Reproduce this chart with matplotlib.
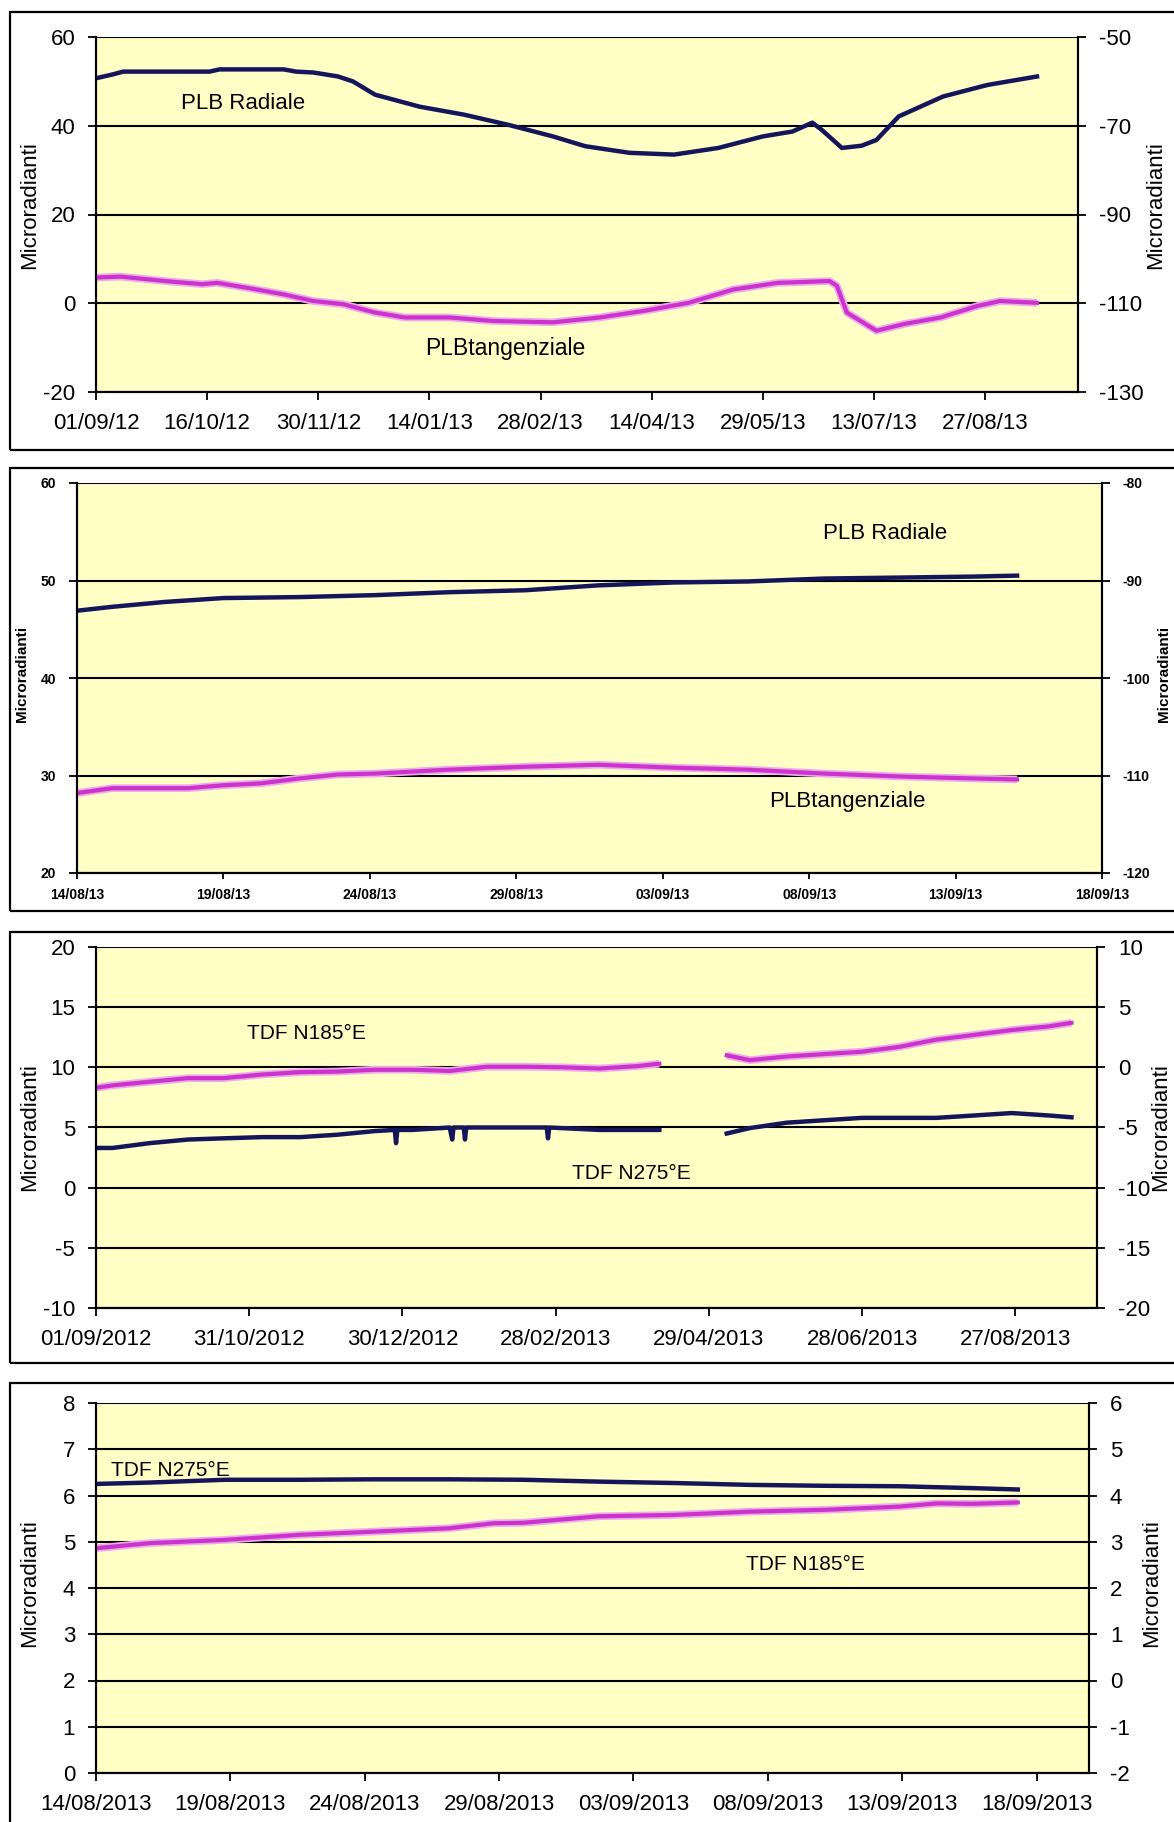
import datetime as dt
import numpy as np
import matplotlib
matplotlib.use('Agg')
import matplotlib.pyplot as plt
from matplotlib.patches import Rectangle

plt.rcParams['font.family'] = ['Liberation Sans', 'DejaVu Sans']
plt.rcParams['axes.unicode_minus'] = False

# ---- data (days after the panel start date, readings in microradianti) ----
# Panel 1: PLB, 01/09/2012 -> 09/2013
p1_start = dt.datetime(2012, 9, 1)
p1_rad_days = [0, 7, 11, 46, 50, 76, 81, 88, 98, 104, 113, 131, 149, 167, 185, 198,
               216, 234, 252, 270, 282, 290, 294, 302, 310, 316, 325, 343, 361, 381]
p1_rad_vals = [50.7, 51.6, 52.2, 52.2, 52.7, 52.7, 52.2, 52.0, 51.1, 50.0, 47.0, 44.3,
               42.5, 40.2, 37.6, 35.4, 33.9, 33.5, 35.0, 37.6, 38.7, 40.7, 39.0, 35.0,
               35.5, 36.8, 42.1, 46.6, 49.2, 51.1]
p1_tan_days = [0, 10, 28, 43, 49, 61, 76, 88, 100, 113, 125, 143, 161, 185, 204, 222,
               240, 258, 276, 297, 300, 304, 316, 327, 342, 357, 366, 381]
p1_tan_vals = [-104.2, -104.0, -105.0, -105.7, -105.4, -106.5, -108.0, -109.5, -110.2,
               -112.1, -113.2, -113.2, -114.0, -114.3, -113.2, -111.7, -109.9, -106.9,
               -105.4, -105.0, -106.1, -112.1, -116.2, -114.7, -113.2, -110.6, -109.5,
               -109.9]
p1_ticks = ['01/09/12', '16/10/12', '30/11/12', '14/01/13', '28/02/13', '14/04/13',
            '29/05/13', '13/07/13', '27/08/13']

# Panel 2: PLB, 14/08/2013 -> 18/09/2013
p2_start = dt.datetime(2013, 8, 14)
p2_rad_days = [0, 1.2, 3.0, 5.0, 7.6, 10.2, 12.7, 15.3, 17.8, 20.4, 22.9, 25.5, 28.1,
               30.6, 32.1]
p2_rad_vals = [46.9, 47.3, 47.8, 48.2, 48.3, 48.5, 48.8, 49.0, 49.5, 49.8, 49.9, 50.2,
               50.3, 50.4, 50.5]
p2_tan_days = [0, 1.2, 3.8, 5.0, 6.3, 7.6, 8.9, 10.2, 12.7, 15.3, 17.8, 20.4, 22.9,
               25.5, 28.1, 30.6, 32.1]
p2_tan_vals = [-111.8, -111.3, -111.3, -111.0, -110.8, -110.3, -109.9, -109.8, -109.4,
               -109.1, -108.9, -109.2, -109.4, -109.8, -110.1, -110.3, -110.4]
p2_ticks = ['14/08/13', '19/08/13', '24/08/13', '29/08/13', '03/09/13', '08/09/13',
            '13/09/13', '18/09/13']

# Panel 3: TDF, 01/09/2012 -> 09/2013 (gap in April/May 2013)
p3_start = dt.datetime(2012, 9, 1)
p3_n275_days = [0, 6.5, 21, 36, 50, 65, 80, 94.5, 109, 117, 117.5, 118, 124, 138.5,
                139.5, 140, 144, 144.5, 145, 153, 168, 176.5, 177, 177.5, 182.5, 197,
                212, 220.6, 234, 247, 256, 270.5, 285, 300, 314.5, 329, 344, 358.6,
                373, 382]
p3_n275_vals = [3.3, 3.3, 3.7, 4.0, 4.1, 4.2, 4.2, 4.4, 4.7, 4.8, 3.7, 4.8, 4.8, 5.0,
                4.0, 5.0, 5.0, 4.0, 5.0, 5.0, 5.0, 5.0, 4.1, 5.0, 4.95, 4.8, 4.8, 4.8,
                np.nan, 4.5, 4.95, 5.4, 5.6, 5.8, 5.8, 5.8, 6.0, 6.2, 6.0, 5.85]
p3_n185_days = [0, 6.5, 21, 36, 50, 65, 80, 94.5, 109, 124, 138.5, 153, 168, 182.5,
                197, 212, 220.6, 234, 247, 256, 270.5, 285, 300, 314.5, 329, 344,
                358.6, 373, 382]
p3_n185_vals = [-1.7, -1.5, -1.2, -0.9, -0.9, -0.6, -0.4, -0.35, -0.2, -0.2, -0.3,
                0.05, 0.05, 0.0, -0.1, 0.1, 0.3, np.nan, 1.0, 0.6, 0.9, 1.1, 1.3, 1.7,
                2.3, 2.7, 3.1, 3.4, 3.7]
p3_ticks = ['01/09/2012', '31/10/2012', '30/12/2012', '28/02/2013', '29/04/2013',
            '28/06/2013', '27/08/2013']

# Panel 4: TDF, 14/08/2013 -> 18/09/2013
p4_start = dt.datetime(2013, 8, 14)
p4_n275_days = [0, 2, 4.8, 7.6, 10.4, 13.1, 15.9, 18.7, 21.5, 24.3, 27.1, 29.9, 32.6,
                34.3]
p4_n275_vals = [6.25, 6.28, 6.34, 6.34, 6.35, 6.35, 6.34, 6.3, 6.27, 6.23, 6.21, 6.2,
                6.16, 6.13]
p4_n185_days = [0, 2, 4.8, 7.6, 10.4, 13.1, 14.8, 15.9, 18.7, 21.5, 24.3, 27.1, 29.9,
                31.3, 32.6, 34.3]
p4_n185_vals = [2.86, 2.97, 3.04, 3.15, 3.22, 3.29, 3.40, 3.41, 3.55, 3.58, 3.65, 3.69,
                3.76, 3.83, 3.82, 3.85]
p4_ticks = ['14/08/2013', '19/08/2013', '24/08/2013', '29/08/2013', '03/09/2013',
            '08/09/2013', '13/09/2013', '18/09/2013']

NAVY = '#15155c'
MAG = '#cc33cc'
HALO = '#ecaaec'
BG = '#ffffc6'
W, H = 1174, 1822


def to_dates(start, days):
    return [start + dt.timedelta(days=float(d)) for d in days]


def box(l, t, r, b):
    return [l / W, 1 - b / H, (r - l) / W, (b - t) / H]


def frame(fig, t, b):
    fig.patches.append(Rectangle((10 / W, 1 - b / H), (1190 - 10) / W, (b - t) / H,
                                 transform=fig.transFigure, fill=False,
                                 edgecolor='black', lw=1.6))


def setup(ax, ax2, start, xmax_days, ticks, fmt, ylim, ystep, y2lim, fs, bold=False):
    w = 'bold' if bold else 'normal'
    ax.set_facecolor(BG)
    ax.set_xlim(start, start + dt.timedelta(days=xmax_days))
    tick_dates = [dt.datetime.strptime(s, fmt) for s in ticks]
    ax.set_xticks(tick_dates)
    ax.set_xticklabels(ticks, fontsize=fs, fontweight=w)
    ax.set_ylim(*ylim)
    ax.set_yticks(np.arange(ylim[0], ylim[1] + ystep / 2, ystep))
    ax2.set_ylim(*y2lim)
    ax2.set_yticks(np.arange(y2lim[0], y2lim[1] + ystep / 2, ystep))
    ax.yaxis.grid(True, color='black', lw=1.5)
    ax.spines['top'].set_visible(False)
    ax2.spines['top'].set_visible(False)
    for a in (ax, ax2):
        for s in a.spines.values():
            s.set_linewidth(1.5)
    ax.tick_params(axis='x', direction='out', length=6, width=1.3, pad=9)
    ax.tick_params(axis='y', direction='out', length=6, width=1.3, pad=9, labelsize=fs)
    ax2.tick_params(axis='y', direction='out', length=6, width=1.3, pad=9, labelsize=fs)
    for lab in ax.get_yticklabels() + ax2.get_yticklabels():
        lab.set_fontweight(w)


def ylabels(fig, y, xl, xr, fs, bold=False):
    w = 'bold' if bold else 'normal'
    for x in (xl, xr):
        fig.text(x / W, 1 - y / H, 'Microradianti', rotation=90, ha='center',
                 va='center', fontsize=fs, fontweight=w)


def mag_line(ax, x, y):
    ax.plot(x, y, color=HALO, lw=5.5, solid_capstyle='butt')
    ax.plot(x, y, color=MAG, lw=3)


fig = plt.figure(figsize=(W / 100, H / 100), dpi=100)
fig.patch.set_facecolor('white')

# ---- panel 1 ----
frame(fig, 12, 450)
ax = fig.add_axes(box(96, 37, 1078, 392))
ax2 = ax.twinx()
setup(ax, ax2, p1_start, 397.6, p1_ticks, '%d/%m/%y', (-20, 60), 20, (-130, -50), 16)
ax.plot(to_dates(p1_start, p1_rad_days), p1_rad_vals, color=NAVY, lw=3.2)
mag_line(ax2, to_dates(p1_start, p1_tan_days), p1_tan_vals)
ax.text(p1_start + dt.timedelta(days=59.6), 45.1, 'PLB Radiale', fontsize=16,
        ha='center', va='center')
ax.text(p1_start + dt.timedelta(days=165.8), -10.3, 'PLBtangenziale', fontsize=16.5,
        ha='center', va='center')
ylabels(fig, 205, 30, 1156, 16)

# ---- panel 2 ----
frame(fig, 468, 911)
ax = fig.add_axes(box(77, 483, 1102, 873))
ax2 = ax.twinx()
setup(ax, ax2, p2_start, 35, p2_ticks, '%d/%m/%y', (20, 60), 10, (-120, -80), 10,
      bold=True)
ax.tick_params(axis='x', pad=7, length=4)
ax.plot(to_dates(p2_start, p2_rad_days), p2_rad_vals, color=NAVY, lw=3.2)
mag_line(ax2, to_dates(p2_start, p2_tan_days), p2_tan_vals)
ax.text(p2_start + dt.timedelta(days=27.6), 54.8, 'PLB Radiale', fontsize=16,
        ha='center', va='center')
ax.text(p2_start + dt.timedelta(days=26.3), 27.3, 'PLBtangenziale', fontsize=16,
        ha='center', va='center')
ylabels(fig, 674, 22, 1164, 11, bold=True)

# ---- panel 3 ----
frame(fig, 932, 1363)
ax = fig.add_axes(box(96, 947, 1097, 1308))
ax2 = ax.twinx()
setup(ax, ax2, p3_start, 392, p3_ticks, '%d/%m/%Y', (-10, 20), 5, (-20, 10), 16)
ax.plot(to_dates(p3_start, p3_n275_days), p3_n275_vals, color=NAVY, lw=3.2)
mag_line(ax2, to_dates(p3_start, p3_n185_days), p3_n185_vals)
ax.text(p3_start + dt.timedelta(days=82.6), 12.8, 'TDF N185°E', fontsize=15,
        ha='center', va='center')
ax.text(p3_start + dt.timedelta(days=209.5), 1.2, 'TDF N275°E', fontsize=15,
        ha='center', va='center')
ylabels(fig, 1127, 30, 1161, 16)

# ---- panel 4 ----
frame(fig, 1383, 1840)
ax = fig.add_axes(box(96, 1403, 1089, 1773))
ax2 = ax.twinx()
setup(ax, ax2, p4_start, 36.95, p4_ticks, '%d/%m/%Y', (0, 8), 1, (-2, 6), 16)
ax.plot(to_dates(p4_start, p4_n275_days), p4_n275_vals, color=NAVY, lw=3.2)
mag_line(ax2, to_dates(p4_start, p4_n185_days), p4_n185_vals)
ax.text(p4_start + dt.timedelta(days=2.75), 6.55, 'TDF N275°E', fontsize=15,
        ha='center', va='center')
ax.text(p4_start + dt.timedelta(days=26.4), 4.5, 'TDF N185°E', fontsize=15,
        ha='center', va='center')
ylabels(fig, 1583, 30, 1152, 16)

fig.savefig('out.png', dpi=100)
